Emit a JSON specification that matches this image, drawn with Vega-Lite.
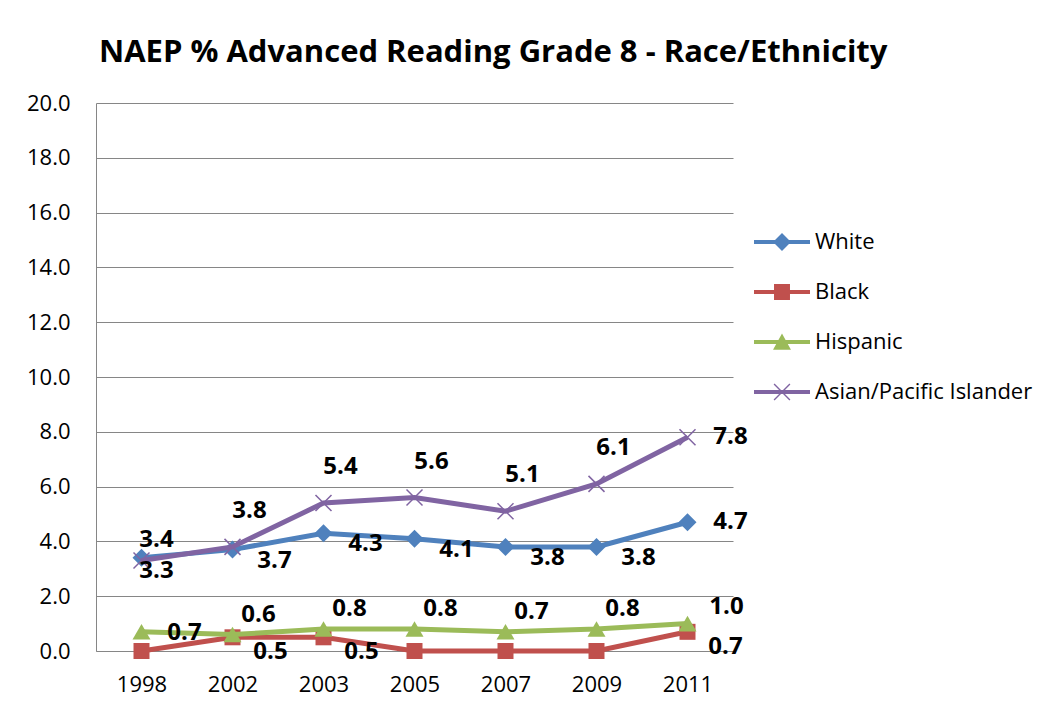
{
  "$schema": "https://vega.github.io/schema/vega-lite/v6.json",
  "width": 637,
  "height": 548,
  "autosize": {"type": "none"},
  "padding": {"left": 96, "top": 103, "right": 323, "bottom": 74},
  "background": "white",
  "title": {"text": "NAEP % Advanced Reading Grade 8 - Race/Ethnicity", "anchor": "start", "frame": "group", "font": "Open Sans", "fontSize": 31, "fontWeight": "bold", "color": "black", "offset": 23, "dx": 3},
  "config": {"view": {"stroke": null}},
  "data": {"values": [
    {"year": "1998", "series": "White", "value": 3.4},
    {"year": "2002", "series": "White", "value": 3.7},
    {"year": "2003", "series": "White", "value": 4.3},
    {"year": "2005", "series": "White", "value": 4.1},
    {"year": "2007", "series": "White", "value": 3.8},
    {"year": "2009", "series": "White", "value": 3.8},
    {"year": "2011", "series": "White", "value": 4.7},
    {"year": "1998", "series": "Black", "value": 0},
    {"year": "2002", "series": "Black", "value": 0.5},
    {"year": "2003", "series": "Black", "value": 0.5},
    {"year": "2005", "series": "Black", "value": 0},
    {"year": "2007", "series": "Black", "value": 0},
    {"year": "2009", "series": "Black", "value": 0},
    {"year": "2011", "series": "Black", "value": 0.7},
    {"year": "1998", "series": "Hispanic", "value": 0.7},
    {"year": "2002", "series": "Hispanic", "value": 0.6},
    {"year": "2003", "series": "Hispanic", "value": 0.8},
    {"year": "2005", "series": "Hispanic", "value": 0.8},
    {"year": "2007", "series": "Hispanic", "value": 0.7},
    {"year": "2009", "series": "Hispanic", "value": 0.8},
    {"year": "2011", "series": "Hispanic", "value": 1.0},
    {"year": "1998", "series": "Asian/Pacific Islander", "value": 3.3},
    {"year": "2002", "series": "Asian/Pacific Islander", "value": 3.8},
    {"year": "2003", "series": "Asian/Pacific Islander", "value": 5.4},
    {"year": "2005", "series": "Asian/Pacific Islander", "value": 5.6},
    {"year": "2007", "series": "Asian/Pacific Islander", "value": 5.1},
    {"year": "2009", "series": "Asian/Pacific Islander", "value": 6.1},
    {"year": "2011", "series": "Asian/Pacific Islander", "value": 7.8}
  ]},
  "encoding": {
    "x": {"field": "year", "type": "ordinal", "scale": {"type": "point", "padding": 0.5},
      "axis": {"title": null, "labelAngle": 0, "ticks": false, "grid": false, "domainColor": "#868686", "labelFont": "Open Sans", "labelFontSize": 22, "labelColor": "black", "labelPadding": 23}},
    "y": {"field": "value", "type": "quantitative", "scale": {"domain": [0, 20], "nice": false},
      "axis": {"title": null, "values": [0, 2, 4, 6, 8, 10, 12, 14, 16, 18, 20], "format": ".1f", "grid": true, "gridColor": "#868686", "ticks": false, "domainColor": "#868686", "labelFont": "Open Sans", "labelFontSize": 22, "labelColor": "black", "labelPadding": 26}}
  },
  "layer": [
    {"transform": [{"filter": "datum.series == 'White'"}],
     "mark": {"type": "line", "color": "#4F81BD", "strokeWidth": 5, "point": {"shape": "diamond", "size": 324, "filled": true, "color": "#4F81BD", "opacity": 1}}},
    {"transform": [{"filter": "datum.series == 'Black'"}],
     "mark": {"type": "line", "color": "#C0504D", "strokeWidth": 5, "point": {"shape": "square", "size": 256, "filled": true, "color": "#C0504D", "opacity": 1}}},
    {"transform": [{"filter": "datum.series == 'Hispanic'"}],
     "mark": {"type": "line", "color": "#9BBB59", "strokeWidth": 5, "point": {"shape": "triangle-up", "size": 324, "filled": true, "color": "#9BBB59", "opacity": 1}}},
    {"transform": [{"filter": "datum.series == 'Asian/Pacific Islander'"}],
     "mark": {"type": "line", "color": "#8064A2", "strokeWidth": 5, "point": {"shape": "M-1,-1L1,1M-1,1L1,-1", "size": 256, "filled": false, "strokeWidth": 1.5, "color": "#8064A2", "opacity": 1}}},
    {"mark": {"type": "point", "opacity": 0, "filled": true},
     "encoding": {
       "color": {"field": "series", "type": "nominal",
         "scale": {"domain": ["White", "Black", "Hispanic", "Asian/Pacific Islander"], "range": ["#4F81BD", "#C0504D", "#9BBB59", "#8064A2"]},
         "legend": {"orient": "none", "legendX": 672, "legendY": 125, "title": null, "labelFont": "Open Sans", "labelFontSize": 22, "labelColor": "black", "labelLimit": 0, "symbolSize": 784, "symbolStrokeWidth": 0, "symbolOpacity": 1, "labelOffset": 19, "rowPadding": 25, "padding": 0, "offset": 0}},
       "shape": {"field": "series", "type": "nominal",
         "scale": {"domain": ["White", "Black", "Hispanic", "Asian/Pacific Islander"], "range": [
           "M-2,-0.15H2V0.15H-2ZM0,-0.64L0.64,0L0,0.64L-0.64,0Z",
           "M-2,-0.15H2V0.15H-2ZM-0.57,-0.57H0.57V0.57H-0.57Z",
           "M-2,-0.15H2V0.15H-2ZM0,-0.6L0.64,0.55H-0.64Z",
           "M-2,-0.15H2V0.15H-2ZM-0.6,-0.53L-0.53,-0.6L0.6,0.53L0.53,0.6ZM0.53,-0.6L0.6,-0.53L-0.53,0.6L-0.6,0.53Z"]},
         "legend": {"orient": "none", "legendX": 672, "legendY": 125, "title": null, "labelFont": "Open Sans", "labelFontSize": 22, "labelColor": "black", "labelLimit": 0, "symbolSize": 784, "symbolStrokeWidth": 0, "symbolOpacity": 1, "labelOffset": 19, "rowPadding": 25, "padding": 0, "offset": 0}}
     }},
    {"transform": [{"filter": "datum.series == 'White' && datum.year == '1998'"}],
     "mark": {"type": "text", "font": "Open Sans", "fontWeight": "bold", "fontSize": 24, "color": "black", "align": "center", "baseline": "middle", "dx": 15, "dy": -18},
     "encoding": {"text": {"field": "value", "type": "quantitative", "format": ".1f"}}},
    {"transform": [{"filter": "datum.series == 'White' && datum.year != '1998' && datum.year != '2011'"}],
     "mark": {"type": "text", "font": "Open Sans", "fontWeight": "bold", "fontSize": 24, "color": "black", "align": "center", "baseline": "middle", "dx": 42, "dy": 11},
     "encoding": {"text": {"field": "value", "type": "quantitative", "format": ".1f"}}},
    {"transform": [{"filter": "datum.year == '2011' && (datum.series == 'White' || datum.series == 'Asian/Pacific Islander')"}],
     "mark": {"type": "text", "font": "Open Sans", "fontWeight": "bold", "fontSize": 24, "color": "black", "align": "center", "baseline": "middle", "dx": 43, "dy": 0},
     "encoding": {"text": {"field": "value", "type": "quantitative", "format": ".1f"}}},
    {"transform": [{"filter": "datum.series == 'Asian/Pacific Islander' && datum.year == '1998'"}],
     "mark": {"type": "text", "font": "Open Sans", "fontWeight": "bold", "fontSize": 24, "color": "black", "align": "center", "baseline": "middle", "dx": 15, "dy": 10},
     "encoding": {"text": {"field": "value", "type": "quantitative", "format": ".1f"}}},
    {"transform": [{"filter": "datum.series == 'Asian/Pacific Islander' && datum.year != '1998' && datum.year != '2011'"}],
     "mark": {"type": "text", "font": "Open Sans", "fontWeight": "bold", "fontSize": 24, "color": "black", "align": "center", "baseline": "middle", "dx": 17, "dy": -36},
     "encoding": {"text": {"field": "value", "type": "quantitative", "format": ".1f"}}},
    {"transform": [{"filter": "datum.series == 'Black' && datum.value > 0"}],
     "mark": {"type": "text", "font": "Open Sans", "fontWeight": "bold", "fontSize": 24, "color": "black", "align": "center", "baseline": "middle", "dx": 38, "dy": 15},
     "encoding": {"text": {"field": "value", "type": "quantitative", "format": ".1f"}}},
    {"transform": [{"filter": "datum.series == 'Hispanic' && datum.year == '1998'"}],
     "mark": {"type": "text", "font": "Open Sans", "fontWeight": "bold", "fontSize": 24, "color": "black", "align": "center", "baseline": "middle", "dx": 43, "dy": 1},
     "encoding": {"text": {"field": "value", "type": "quantitative", "format": ".1f"}}},
    {"transform": [{"filter": "datum.series == 'Hispanic' && datum.year != '1998' && datum.year != '2011'"}],
     "mark": {"type": "text", "font": "Open Sans", "fontWeight": "bold", "fontSize": 24, "color": "black", "align": "center", "baseline": "middle", "dx": 26, "dy": -20},
     "encoding": {"text": {"field": "value", "type": "quantitative", "format": ".1f"}}},
    {"transform": [{"filter": "datum.series == 'Hispanic' && datum.year == '2011'"}],
     "mark": {"type": "text", "font": "Open Sans", "fontWeight": "bold", "fontSize": 24, "color": "black", "align": "center", "baseline": "middle", "dx": 39, "dy": -17},
     "encoding": {"text": {"field": "value", "type": "quantitative", "format": ".1f"}}}
  ]
}
